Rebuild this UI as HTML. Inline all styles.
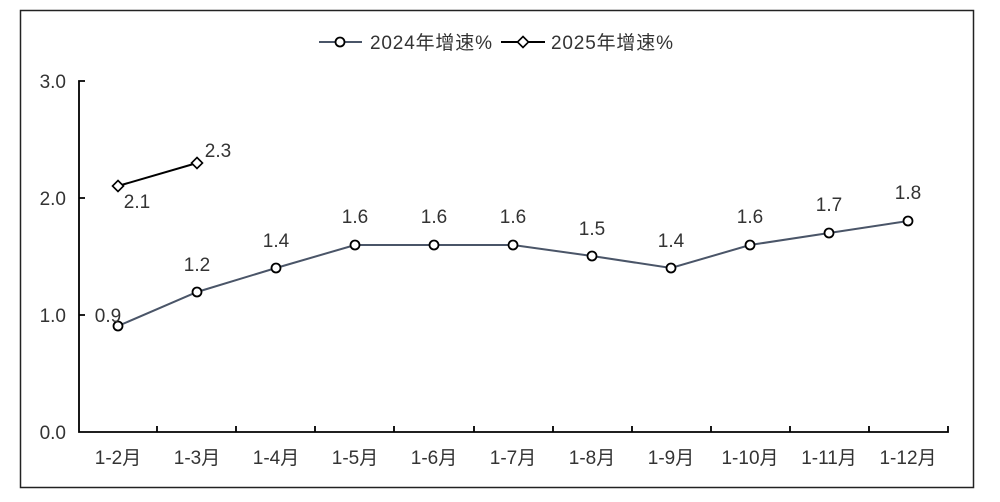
<!DOCTYPE html>
<html><head><meta charset="utf-8"><style>body{margin:0;background:#fff}</style></head><body>
<svg width="1000" height="497" xmlns="http://www.w3.org/2000/svg" font-family="Liberation Sans, Noto Sans CJK SC, sans-serif">
<rect x="20.5" y="10.5" width="953" height="477" fill="#fff" stroke="#222" stroke-width="1.5"/>
<g stroke="#000" stroke-width="1.8" fill="none">
<path d="M85 81H79V432H948V426"/>
<path d="M79 198H85M79 315H85"/>
<path d="M157 432V426M236 432V426M315 432V426M394 432V426M474 432V426M553 432V426M632 432V426M711 432V426M790 432V426M869 432V426"/>
</g>
<g font-size="19" fill="#333" text-anchor="end">
<text x="66" y="88">3.0</text><text x="66" y="205">2.0</text><text x="66" y="322">1.0</text><text x="66" y="439">0.0</text>
</g>
<g font-size="19" fill="#333" text-anchor="middle">
<text x="118" y="464">1-2月</text><text x="197" y="464">1-3月</text><text x="276" y="464">1-4月</text><text x="355" y="464">1-5月</text><text x="434" y="464">1-6月</text><text x="513" y="464">1-7月</text><text x="592" y="464">1-8月</text><text x="671" y="464">1-9月</text><text x="750" y="464">1-10月</text><text x="829" y="464">1-11月</text><text x="908" y="464">1-12月</text>
</g>
<polyline fill="none" stroke="#4a5568" stroke-width="2" points="118,326 197,292 276,268 355,245 434,245 513,245 592,256 671,268 750,245 829,233 908,221"/>
<g fill="#fff" stroke="#000" stroke-width="1.8">
<circle cx="118" cy="326" r="4.5"/><circle cx="197" cy="292" r="4.5"/><circle cx="276" cy="268" r="4.5"/><circle cx="355" cy="245" r="4.5"/><circle cx="434" cy="245" r="4.5"/><circle cx="513" cy="245" r="4.5"/><circle cx="592" cy="256" r="4.5"/><circle cx="671" cy="268" r="4.5"/><circle cx="750" cy="245" r="4.5"/><circle cx="829" cy="233" r="4.5"/><circle cx="908" cy="221" r="4.5"/>
</g>
<line x1="118" y1="186" x2="197" y2="163" stroke="#000" stroke-width="2"/>
<g fill="#fff" stroke="#000" stroke-width="1.6">
<path d="M118 180.5L123.5 186L118 191.5L112.5 186Z"/><path d="M197 157.5L202.5 163L197 168.5L191.5 163Z"/>
</g>
<g font-size="19" fill="#333" text-anchor="middle">
<text x="108" y="322">0.9</text><text x="197" y="271">1.2</text><text x="276" y="247">1.4</text><text x="355" y="223">1.6</text><text x="434" y="223">1.6</text><text x="513" y="223">1.6</text><text x="592" y="235">1.5</text><text x="671" y="247">1.4</text><text x="750" y="223">1.6</text><text x="829" y="211">1.7</text><text x="908" y="199">1.8</text>
<text x="137" y="208">2.1</text><text x="218" y="157">2.3</text>
</g>
<line x1="319" y1="42" x2="362" y2="42" stroke="#4a5568" stroke-width="2"/>
<circle cx="340" cy="42" r="4.5" fill="#fff" stroke="#000" stroke-width="1.8"/>
<text x="370" y="49" font-size="19" fill="#333" textLength="122">2024年增速%</text>
<line x1="501" y1="42" x2="545" y2="42" stroke="#000" stroke-width="2"/>
<path d="M523 36.5L528.5 42L523 47.5L517.5 42Z" fill="#fff" stroke="#000" stroke-width="1.6"/>
<text x="551" y="49" font-size="19" fill="#333" textLength="122">2025年增速%</text>
</svg>
</body></html>
